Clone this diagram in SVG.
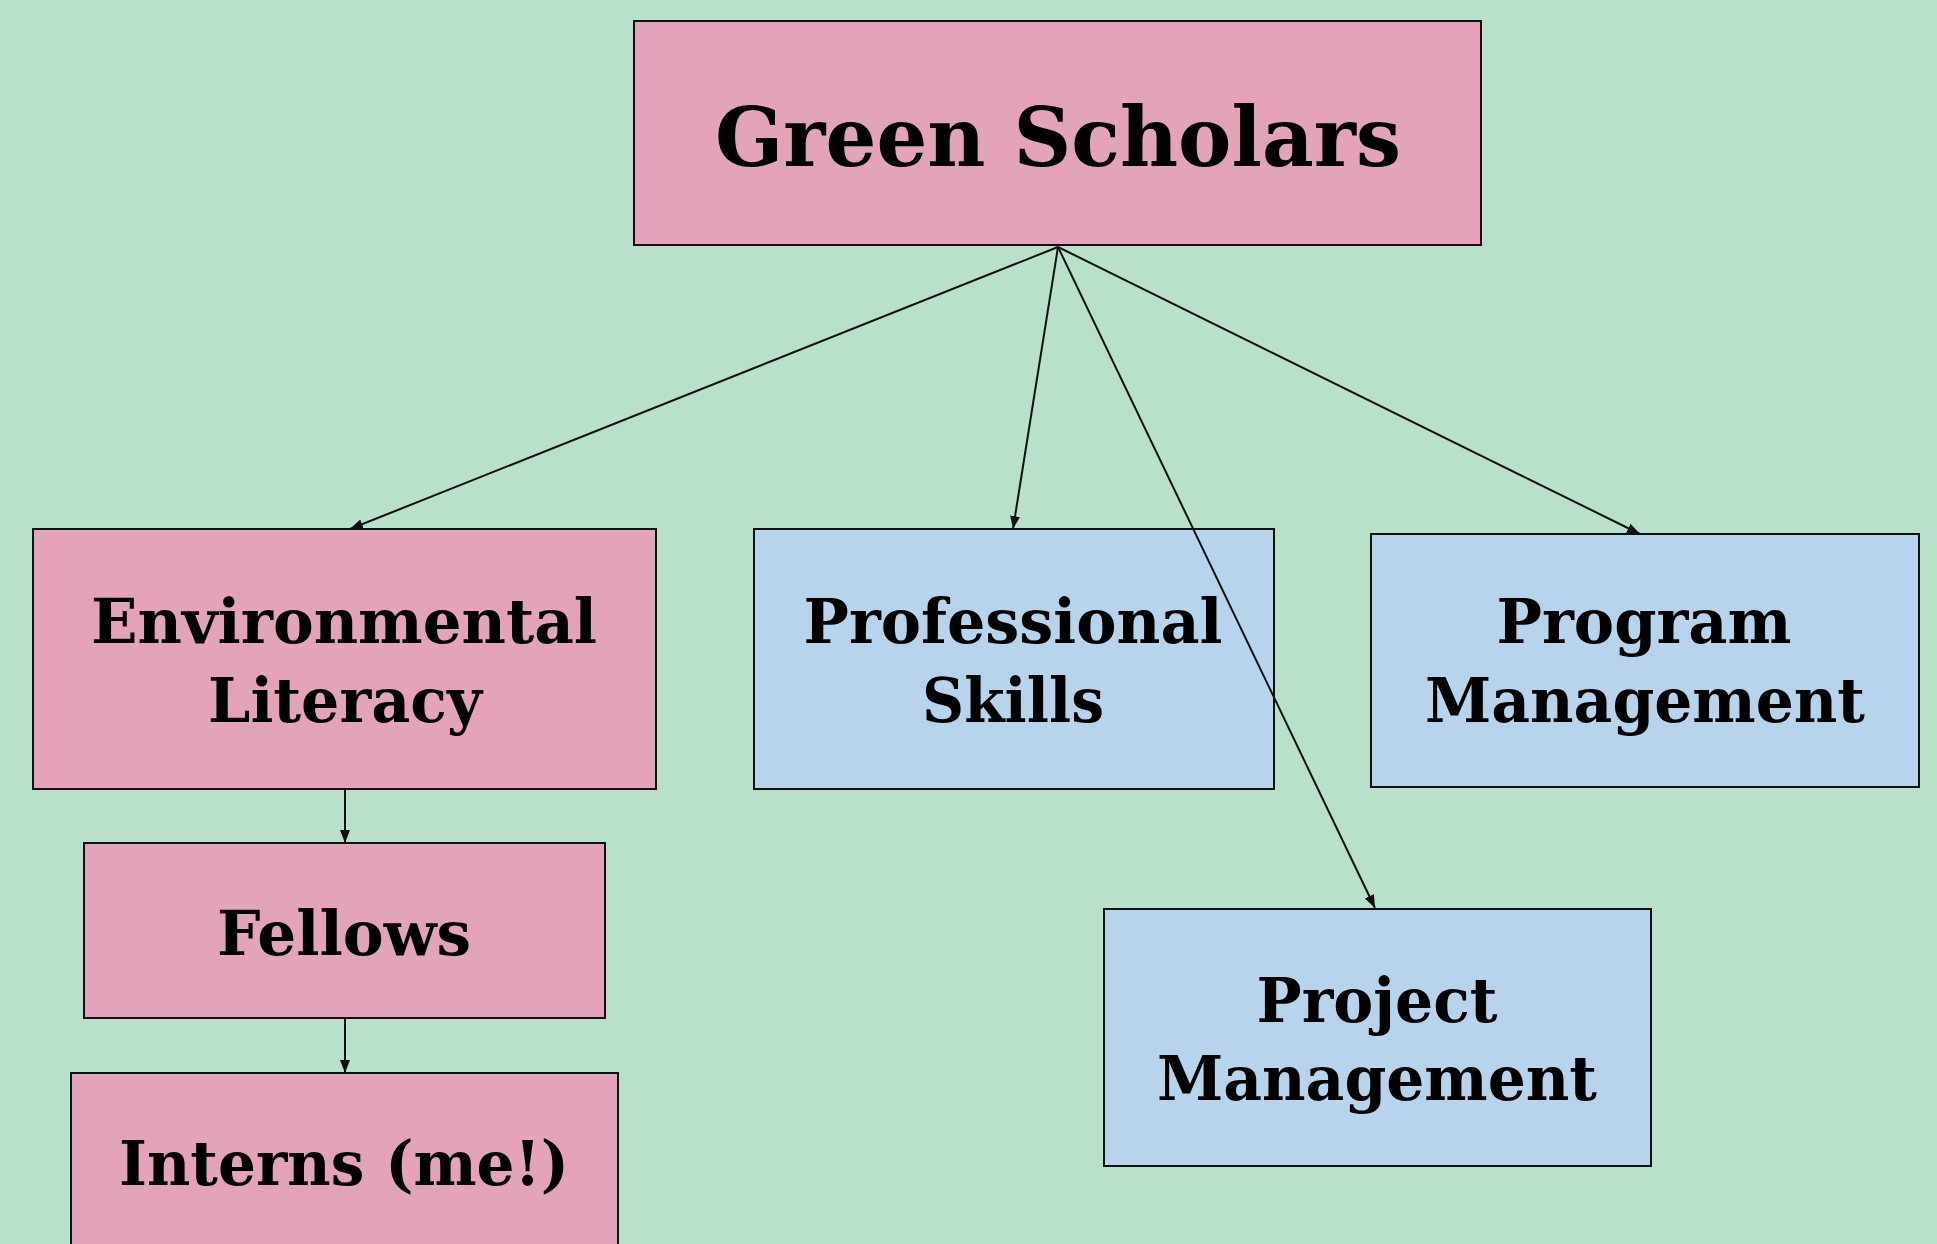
<svg xmlns="http://www.w3.org/2000/svg" width="1937" height="1244" viewBox="0 0 1937 1244">
<style>
.pink{fill:#e2a3bb;stroke:#111;stroke-width:2}
.blue{fill:#b8d4ec;stroke:#111;stroke-width:2}
.t{font-family:"DejaVu Serif","Liberation Serif",serif;font-weight:bold;fill:#000;text-anchor:middle;font-size:62px}
.big{font-size:82px}
.c{stroke:#111;stroke-width:2;fill:none;marker-end:url(#ah)}
</style>
<defs>
<marker id="ah" markerUnits="userSpaceOnUse" markerWidth="14" markerHeight="12" refX="13" refY="5" orient="auto">
<path d="M0,0 L13,5 L0,10 z" fill="#111"/>
</marker>
</defs>
<rect width="1937" height="1244" fill="#b9e0ca"/>
<g id="green-scholars">
<rect class="pink" x="634" y="21" width="847" height="224"/>
<text class="t big" x="1058" y="166" textLength="686" lengthAdjust="spacingAndGlyphs">Green Scholars</text>
</g>
<g id="environmental-literacy">
<rect class="pink" x="33" y="529" width="623" height="260"/>
<text class="t" x="344" y="643" textLength="506" lengthAdjust="spacingAndGlyphs">Environmental</text>
<text class="t" x="345" y="722" textLength="274" lengthAdjust="spacingAndGlyphs">Literacy</text>
</g>
<g id="professional-skills">
<rect class="blue" x="754" y="529" width="520" height="260"/>
<text class="t" x="1013" y="643" textLength="419" lengthAdjust="spacingAndGlyphs">Professional</text>
<text class="t" x="1013" y="722" textLength="182" lengthAdjust="spacingAndGlyphs">Skills</text>
</g>
<g id="program-management">
<rect class="blue" x="1371" y="534" width="548" height="253"/>
<text class="t" x="1644" y="643" textLength="295" lengthAdjust="spacingAndGlyphs">Program</text>
<text class="t" x="1645" y="722" textLength="440" lengthAdjust="spacingAndGlyphs">Management</text>
</g>
<g id="fellows">
<rect class="pink" x="84" y="843" width="521" height="175"/>
<text class="t" x="344" y="955" textLength="254" lengthAdjust="spacingAndGlyphs">Fellows</text>
</g>
<g id="interns">
<rect class="pink" x="71" y="1073" width="547" height="200"/>
<text class="t" x="344" y="1185" textLength="450" lengthAdjust="spacingAndGlyphs">Interns (me!)</text>
</g>
<g id="project-management">
<rect class="blue" x="1104" y="909" width="547" height="257"/>
<text class="t" x="1377" y="1022" textLength="241" lengthAdjust="spacingAndGlyphs">Project</text>
<text class="t" x="1377" y="1100" textLength="440" lengthAdjust="spacingAndGlyphs">Management</text>
</g>
<g id="connectors">
<line class="c" x1="1058" y1="247" x2="350" y2="529"/>
<line class="c" x1="1058" y1="247" x2="1013" y2="529"/>
<line class="c" x1="1058" y1="247" x2="1640" y2="534"/>
<line class="c" x1="1058" y1="247" x2="1375" y2="908"/>
<line class="c" x1="345" y1="789" x2="345" y2="843"/>
<line class="c" x1="345" y1="1018" x2="345" y2="1073"/>
</g>
</svg>
